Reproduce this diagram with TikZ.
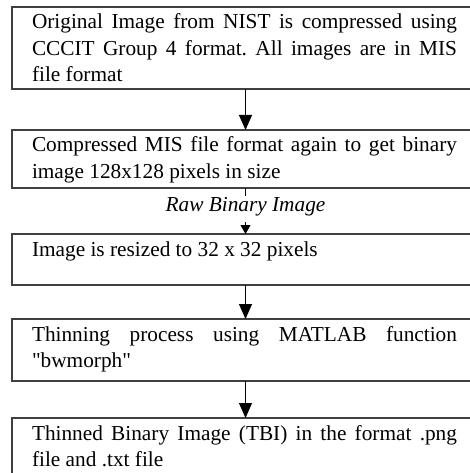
\documentclass[tikz,border=0pt]{standalone}
\usepackage{fontspec}
\setmainfont{Liberation Serif}[Ligatures=TeXOff]
\usetikzlibrary{arrows.meta}
\newcommand{\flowtxt}[2]{\parbox[c][#1][t]{425pt}{\fontsize{21.3}{26.5}\selectfont\frenchspacing\tolerance=10000\hyphenpenalty=10000\rule{0pt}{22pt}#2}}
\begin{document}
\begin{tikzpicture}[x=1pt,y=-1pt,
  stepbox/.style={draw=black!75, line width=1.2pt, inner sep=0pt, outer sep=0pt, minimum width=465pt, anchor=north west},
  flow/.style={line width=0.9pt, -{Triangle[width=13pt,length=15pt]}},
  smallflow/.style={line width=0.9pt, -{Triangle[width=10pt,length=9pt]}},
  plain/.style={line width=0.9pt},
  lbl/.style={font=\fontsize{21.3}{26.5}\selectfont\itshape, inner sep=0pt, anchor=base}]
\useasboundingbox (0,0) rectangle (470,473);
\clip (0,0) rectangle (470,473);
\fill[white] (0,0) rectangle (470,473);
\coordinate (ax) at (245.5,0);
\node[stepbox] (b1) at (12,7) {\flowtxt{82pt}{Original Image from NIST is compressed using\linebreak CCCIT Group 4 format. All images are in MIS\linebreak file format}};
\node[stepbox] (b2) at (12,130) {\flowtxt{58pt}{Compressed MIS file format again to get binary\linebreak image 128x128 pixels in size}};
\node[stepbox] (b3) at (12,234) {\flowtxt{51pt}{Image is resized to 32 x 32 pixels}};
\node[stepbox] (b4) at (12,319) {\flowtxt{62pt}{Thinning process using MATLAB function\linebreak "bwmorph"}};
\node[stepbox] (b5) at (12,418) {\flowtxt{62pt}{Thinned Binary Image (TBI) in the format .png\linebreak file and .txt file}};
\node[lbl] (rbi) at (245.5,211) {Raw Binary Image};
\coordinate (s1) at (245.5,196);
\coordinate (s2) at (245.5,222);
\draw[flow] (ax |- b1.south) -- (ax |- b2.north);
\draw[plain] (ax |- b2.south) -- (s1);
\draw[smallflow] (s2) -- (ax |- b3.north);
\draw[flow] (ax |- b3.south) -- (ax |- b4.north);
\draw[flow] (ax |- b4.south) -- (ax |- b5.north);
\end{tikzpicture}
\end{document}
